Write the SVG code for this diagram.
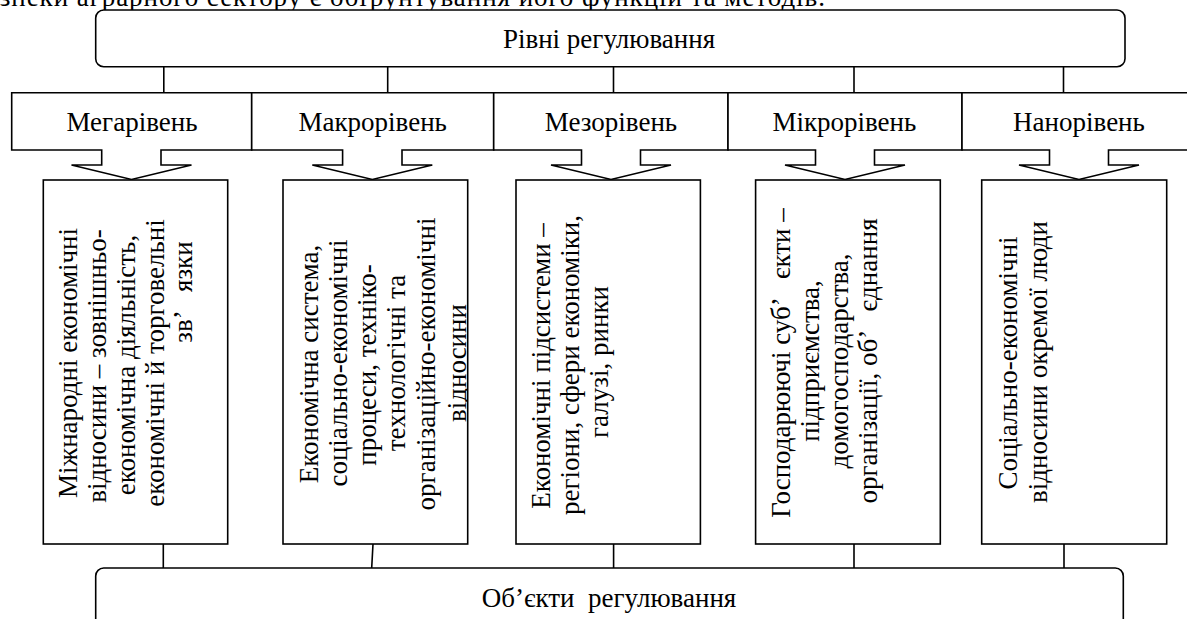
<svg xmlns="http://www.w3.org/2000/svg" width="1187" height="619" viewBox="0 0 1187 619" font-family="'Liberation Serif', serif">
<style>
.b{fill:#fff;stroke:#000;stroke-width:1.6}
.c{fill:none;stroke:#000;stroke-width:1.6}
text{font-family:'Liberation Serif','Times New Roman',serif;font-size:27px;fill:#000;white-space:pre}
.m{text-anchor:middle}
</style>
<defs>
<clipPath id="clip2"><rect x="283" y="180" width="184" height="364"/></clipPath>
</defs>
<rect width="1187" height="619" fill="#fff"/>
<text id="caption" x="-28" y="6" textLength="853" lengthAdjust="spacing">безпеки аграрного сектору є обґрунтування його функцій та методів.</text>

<g id="connectors">
<path class="c" d="M163.8 66.7V92.7M387.7 66.7V92.7M613.5 66.7V92.7M854 66.7V92.7M1063.5 66.7V92.7"/>
<path class="c" d="M163.3 544V568M373 544L371.7 568M613.6 544V568M854 544V568M1064 544V568"/>
</g>

<g id="top">
<rect class="b" x="95.7" y="10" width="1029.3" height="56.7" rx="8"/>
<text class="m" x="609" y="48">Рівні регулювання</text>
</g>

<g id="mega">
<path class="b" d="M11.7 92.7H251.7V150H161V165H191.5L131.5 179.5L71.5 165H101.7V150H11.7Z"/>
<text class="m" x="132" y="131">Мегарівень</text>
</g>
<g id="macro">
<path class="b" d="M251.7 92.7H493.7V150H402V165H432.3L372.3 179.5L312.3 165H342.6V150H251.7Z"/>
<text class="m" x="372.7" y="131">Макрорівень</text>
</g>
<g id="meso">
<path class="b" d="M493.7 92.7H728V150H640.5V165H671L611 179.5L551 165H581.5V150H493.7Z"/>
<text class="m" x="611" y="131">Мезорівень</text>
</g>
<g id="micro">
<path class="b" d="M728 92.7H962V150H874.5V165H905L845 179.5L785 165H815.5V150H728Z"/>
<text class="m" x="844.4" y="131">Мікрорівень</text>
</g>
<g id="nano">
<path class="b" d="M962 92.7H1200V150H1108.5V165H1139L1079 179.5L1019 165H1049.5V150H962Z"/>
<text class="m" x="1079" y="131">Нанорівень</text>
</g>

<g id="obj1">
<rect class="b" x="43.3" y="180" width="184.4" height="364"/>
<text class="m" transform="translate(77 363) rotate(-90)">Міжнародні економічні</text>
<text class="m" transform="translate(106 366) rotate(-90)">відносини – зовнішньо-</text>
<text class="m" transform="translate(135 365) rotate(-90)">економічна діяльність,</text>
<text class="m" transform="translate(164 363) rotate(-90)">економічні й торговельні</text>
<text class="m" transform="translate(192 292) rotate(-90)">зв’   язки</text>
</g>
<g id="obj2">
<rect class="b" x="283" y="180" width="184.7" height="364"/>
<g clip-path="url(#clip2)">
<text class="m" transform="translate(318 364) rotate(-90)">Економічна система,</text>
<text class="m" transform="translate(347 363) rotate(-90)">соціально-економічні</text>
<text class="m" transform="translate(376 365) rotate(-90)">процеси, техніко-</text>
<text class="m" transform="translate(405 363) rotate(-90)">технологічні та</text>
<text class="m" transform="translate(435 364) rotate(-90)">організаційно-економічні</text>
<text class="m" transform="translate(466 363) rotate(-90)">відносини</text>
</g>
</g>
<g id="obj3">
<rect class="b" x="516" y="180" width="184.4" height="364"/>
<text class="m" transform="translate(550 366) rotate(-90)">Економічні підсистеми –</text>
<text class="m" transform="translate(579 365) rotate(-90)">регіони, сфери економіки,</text>
<text class="m" transform="translate(608 362) rotate(-90)">галузі, ринки</text>
</g>
<g id="obj4">
<rect class="b" x="755.6" y="180" width="184.7" height="364"/>
<text class="m" transform="translate(790 363) rotate(-90)">Господарюючі суб’   єкти –</text>
<text class="m" transform="translate(819 361) rotate(-90)">підприємства,</text>
<text class="m" transform="translate(848 361) rotate(-90)">домогосподарства,</text>
<text class="m" transform="translate(877 361) rotate(-90)">організації, об’   єднання</text>
</g>
<g id="obj5">
<rect class="b" x="981.7" y="180" width="185" height="364"/>
<text class="m" transform="translate(1017 363) rotate(-90)">Соціально-економічні</text>
<text class="m" transform="translate(1047 362) rotate(-90)">відносини окремої люди</text>
</g>

<g id="bottom">
<rect class="b" x="95.7" y="568" width="1027.6" height="90" rx="8"/>
<text class="m" x="609" y="607">Об’єкти  регулювання</text>
</g>
</svg>
